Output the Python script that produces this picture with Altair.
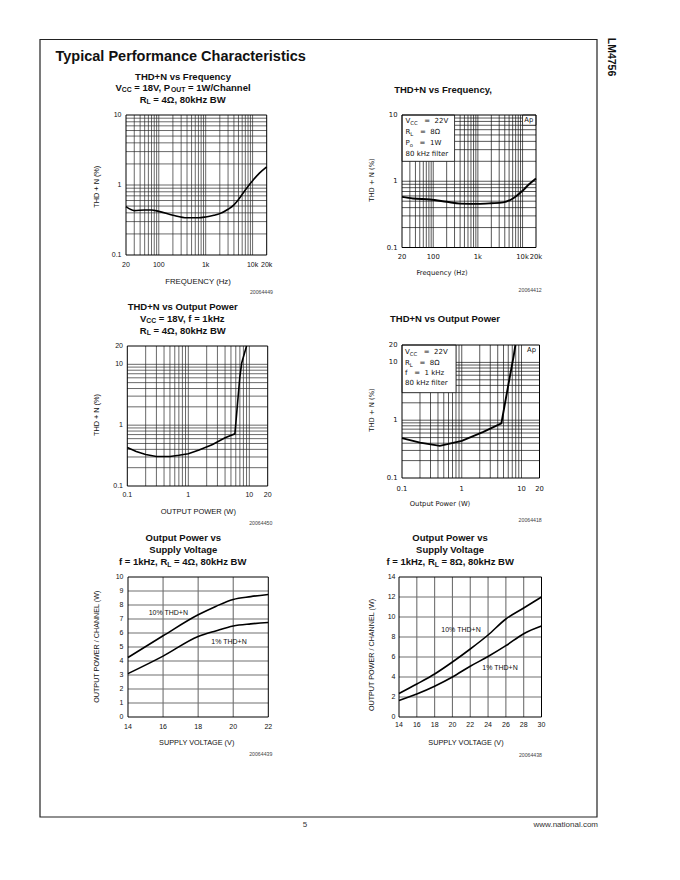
import altair as alt
import pandas as pd

# ------------------------------------------------------------------
# Data (LM4756 typical performance curves)
# ------------------------------------------------------------------
freq_4ohm = [20, 30, 50, 70, 100, 200, 400, 700, 1000, 1500, 2000, 3000, 4000, 5000, 7000, 10000, 14000, 20000]
thd_freq_4ohm = [0.49, 0.43, 0.44, 0.44, 0.42, 0.37, 0.34, 0.34, 0.35, 0.37, 0.39, 0.45, 0.52, 0.62, 0.85, 1.15, 1.48, 1.82]

freq_8ohm = [20, 35, 85, 200, 400, 1000, 2000, 3700, 6200, 10000, 14000, 20000]
thd_freq_8ohm = [0.58, 0.55, 0.53, 0.49, 0.46, 0.455, 0.465, 0.48, 0.555, 0.72, 0.90, 1.1]

pout_4ohm = [0.1, 0.14, 0.2, 0.3, 0.5, 0.7, 1.0, 1.5, 2.5, 4.0, 5.8, 7.0, 7.5, 9.0]
thd_pout_4ohm = [0.43, 0.37, 0.33, 0.305, 0.305, 0.32, 0.34, 0.39, 0.48, 0.62, 0.72, 6.3, 10.5, 20]

pout_8ohm = [0.1, 0.2, 0.43, 1.0, 2.3, 4.6, 6.0, 7.4, 7.9]
thd_pout_8ohm = [0.49, 0.41, 0.36, 0.44, 0.63, 0.88, 4.0, 13, 20]

vcc_4ohm = [14, 16, 18, 19, 20, 21, 22]
pwr10_4ohm = [4.25, 5.8, 7.3, 7.9, 8.4, 8.6, 8.75]
pwr1_4ohm = [3.1, 4.35, 5.75, 6.15, 6.5, 6.65, 6.75]

vcc_8ohm = [14, 16, 18, 20, 22, 24, 26, 28, 30]
pwr10_8ohm = [2.35, 3.3, 4.3, 5.5, 6.8, 8.2, 9.8, 10.9, 12.0]
pwr1_8ohm = [1.65, 2.3, 3.08, 4.0, 5.08, 6.05, 7.13, 8.33, 9.1]

series_names = ["10% THD+N", "1% THD+N"]

# tick labels
freq_tick_vals = [20, 100, 1000, 10000, 20000]
freq_tick_text = ["20", "100", "1k", "10k", "20k"]
thd10_tick_vals = [0.1, 1, 10]
thd10_tick_text = ["0.1", "1", "10"]
thd20_tick_vals = [0.1, 1, 10, 20]
thd20_tick_text = ["0.1", "1", "10", "20"]
pout_tick_vals = [0.1, 1, 10, 20]
pout_tick_text = ["0.1", "1", "10", "20"]
vcc4_ticks = [14, 16, 18, 20, 22]
pw4_ticks = [0, 1, 2, 3, 4, 5, 6, 7, 8, 9, 10]
vcc8_ticks = [14, 16, 18, 20, 22, 24, 26, 28, 30]
pw8_ticks = [0, 2, 4, 6, 8, 10, 12, 14]

# ------------------------------------------------------------------
# Layout helpers
# ------------------------------------------------------------------
OX, OY = 8, 8
SANS = "Liberation Sans"
APF = "DejaVu Sans"
INK = "#111111"
ONE = pd.DataFrame({"k": [0]})

HB = {" ": 278, "+": 584, ",": 278, "/": 278, "=": 584, "%": 889, ".": 278, "(": 333, ")": 333,
      "A": 722, "B": 722, "C": 722, "D": 722, "E": 667, "F": 611, "H": 722, "L": 611, "N": 722, "O": 778,
      "P": 667, "R": 722, "S": 667, "T": 611, "U": 722, "V": 667, "W": 944,
      "a": 556, "c": 556, "e": 556, "f": 333, "g": 611, "h": 611, "i": 278, "k": 556, "l": 278, "n": 611,
      "o": 611, "p": 611, "q": 611, "r": 389, "s": 556, "t": 333, "u": 611, "v": 556, "w": 778, "y": 556,
      "z": 500, "\u03a9": 770}
for d in "0123456789":
    HB[d] = 556
DJ = {" ": 318, "=": 838, "V": 684, "C": 698, "R": 695, "L": 557, "P": 603, "o": 612,
      "W": 989, "\u03a9": 765, "k": 579, "H": 752, "z": 525, "f": 352, "i": 278, "l": 278, "t": 392,
      "e": 615, "r": 411}
for d in "0123456789":
    DJ[d] = 636


def tw(s, table, size):
    return sum(table.get(c, 556) for c in s) * size / 1000.0


def T(x, y, s, size, align="center", weight="normal", font=SANS, color=INK, angle=None, baseline="middle"):
    kw = dict(align=align, baseline=baseline, fontSize=size, font=font, fontWeight=weight, color=color)
    if angle is not None:
        kw["angle"] = angle
    return alt.Chart(ONE).mark_text(**kw).encode(
        x=alt.value(x - OX), y=alt.value(y - OY), text=alt.value(s))


def rich(parts, x, y, size, table, font=SANS, weight="bold", center=True, sub_scale=0.72, sub_dy=2.4):
    sizes = [size * (sub_scale if sub else 1.0) for _, sub in parts]
    widths = [tw(t, table, sz) for (t, _), sz in zip(parts, sizes)]
    cur = x - sum(widths) / 2.0 if center else x
    out = []
    for (t, sub), sz, w in zip(parts, sizes, widths):
        stripped = t.lstrip(" ")
        lead = tw(t[: len(t) - len(stripped)], table, sz)
        out.append(T(cur + lead, y + (sub_dy if sub else 0), stripped, sz, align="left",
                     weight=weight, font=font))
        cur += w
    return out


def ap_rich(parts, x, y):
    return rich(parts, x, y, 7, DJ, font=APF, weight="normal", center=False, sub_scale=0.75, sub_dy=2.0)


def mkscale(t, d, r0, r1, off):
    kw = dict(type=t, domain=list(d), range=[r0 - off, r1 - off], nice=False)
    if t == "linear":
        kw["zero"] = False
    return alt.Scale(**kw)


def panel(xt, xd, xr, yt, yd, yr):
    return dict(xd=xd, yd=yd,
                sx=mkscale(xt, xd, xr[0], xr[1], OX),
                sy=mkscale(yt, yd, yr[0], yr[1], OY))


def log_grid(lo, hi):
    vals = []
    for e in range(-2, 6):
        for m in range(1, 10):
            v = round(m * 10.0 ** e, 6)
            if lo < v < hi:
                vals.append(v)
    return vals


def grid(p, xs, ys, color, width):
    vdf = pd.DataFrame({"v": xs, "lo": p["yd"][0], "hi": p["yd"][1]})
    hdf = pd.DataFrame({"v": ys, "lo": p["xd"][0], "hi": p["xd"][1]})
    v = alt.Chart(vdf).mark_rule(color=color, strokeWidth=width).encode(
        x=alt.X("v:Q", scale=p["sx"], axis=None),
        y=alt.Y("lo:Q", scale=p["sy"], axis=None), y2="hi:Q")
    h = alt.Chart(hdf).mark_rule(color=color, strokeWidth=width).encode(
        y=alt.Y("v:Q", scale=p["sy"], axis=None),
        x=alt.X("lo:Q", scale=p["sx"], axis=None), x2="hi:Q")
    return [v, h]


def box(p, x0, x1, y0, y1, fill=None, stroke="#000000", width=1.0):
    df = pd.DataFrame({"x0": [x0], "x1": [x1], "y0": [y0], "y1": [y1]})
    if fill is None:
        mk = alt.Chart(df).mark_rect(fillOpacity=0, stroke=stroke, strokeWidth=width)
    else:
        mk = alt.Chart(df).mark_rect(color=fill, stroke=stroke, strokeWidth=width)
    return mk.encode(x=alt.X("x0:Q", scale=p["sx"], axis=None), x2="x1:Q",
                     y=alt.Y("y0:Q", scale=p["sy"], axis=None), y2="y1:Q")


def frame(p, width=1.0):
    return box(p, p["xd"][0], p["xd"][1], p["yd"][0], p["yd"][1], width=width)


def curve(p, xs, ys, width=1.6, interp="monotone"):
    df = pd.DataFrame({"x": xs, "y": ys})
    return alt.Chart(df).mark_line(color="#000000", strokeWidth=width, interpolate=interp).encode(
        x=alt.X("x:Q", scale=p["sx"], axis=None), y=alt.Y("y:Q", scale=p["sy"], axis=None))


def curves2(p, xs, y_a, y_b, width=1.6):
    df = pd.DataFrame({"x": xs + xs, "y": y_a + y_b,
                       "s": [series_names[0]] * len(xs) + [series_names[1]] * len(xs)})
    return alt.Chart(df).mark_line(color="#000000", strokeWidth=width, interpolate="monotone").encode(
        x=alt.X("x:Q", scale=p["sx"], axis=None), y=alt.Y("y:Q", scale=p["sy"], axis=None),
        detail="s:N")


def xlabels(p, vals, texts, ypix, size=7, font=SANS):
    df = pd.DataFrame({"v": vals, "t": texts})
    return alt.Chart(df).mark_text(align="center", baseline="middle", fontSize=size, font=font,
                                   color=INK).encode(
        x=alt.X("v:Q", scale=p["sx"], axis=None), y=alt.value(ypix - OY), text="t:N")


def ylabels(p, vals, texts, xpix, size=7, font=SANS):
    df = pd.DataFrame({"v": vals, "t": texts})
    return alt.Chart(df).mark_text(align="right", baseline="middle", fontSize=size, font=font,
                                   color=INK).encode(
        y=alt.Y("v:Q", scale=p["sy"], axis=None), x=alt.value(xpix - OX), text="t:N")


layers = []

# ------------------------------------------------------------------
# Page decoration
# ------------------------------------------------------------------
layers.append(alt.Chart(ONE).mark_rect(fillOpacity=0, stroke="#222222", strokeWidth=1.2).encode(
    x=alt.value(40 - OX), x2=alt.value(597 - OX), y=alt.value(39.5 - OY), y2=alt.value(817 - OY)))
layers.append(T(55.5, 60.7, "Typical Performance Characteristics", 14.5, align="left", weight="bold",
                baseline="alphabetic"))
layers.append(T(610.5, 57, "LM4756", 10.5, weight="bold", angle=90))
layers.append(T(305, 825, "5", 8, color="#333333"))
layers.append(T(598, 825, "www.national.com", 8, align="right", color="#333333"))

GRID_N = "#2a2a2a"
GRID_AP = "#111111"
GRID_LIN = "#707070"

# ------------------------------------------------------------------
# Panel 1: THD+N vs Frequency, 4 ohm
# ------------------------------------------------------------------
p1 = panel("log", [20, 20000], [126, 266.7], "log", [0.1, 10], [255, 115])
layers += grid(p1, log_grid(20, 20000), log_grid(0.1, 10), GRID_N, 0.7)
layers.append(frame(p1))
layers.append(curve(p1, freq_4ohm, thd_freq_4ohm))
layers.append(xlabels(p1, freq_tick_vals, freq_tick_text, 265))
layers.append(ylabels(p1, thd10_tick_vals, thd10_tick_text, 121.5))
layers.append(T(198, 281.7, "FREQUENCY (Hz)", 7.8))
layers.append(T(97.3, 186.7, "THD + N (%)", 7.3, angle=270))
layers.append(T(273, 291.7, "20064449", 5.2, align="right", color="#444444"))
layers.append(T(183, 76.7, "THD+N vs Frequency", 9.5, weight="bold"))
layers += rich([("V", 0), ("CC", 1), (" = 18V, P", 0), ("OUT", 1), (" = 1W/Channel", 0)], 183, 87.7, 9.5, HB)
layers += rich([("R", 0), ("L", 1), (" = 4\u03a9, 80kHz BW", 0)], 182.5, 100, 9.5, HB)

# ------------------------------------------------------------------
# Panel 2: THD+N vs Frequency, 8 ohm (Audio Precision style)
# ------------------------------------------------------------------
p2 = panel("log", [20, 20000], [402, 536], "log", [0.1, 10], [247.5, 115])
layers += grid(p2, log_grid(20, 20000), log_grid(0.1, 10), GRID_AP, 0.7)
layers.append(box(p2, 20, 300, 2, 10, fill="#ffffff", stroke=GRID_AP, width=0.7))
layers.append(box(p2, 10000, 20000, 7, 10, fill="#ffffff", stroke=GRID_AP, width=0.7))
layers.append(frame(p2))
layers.append(curve(p2, freq_8ohm, thd_freq_8ohm, width=1.9))
layers.append(xlabels(p2, freq_tick_vals, freq_tick_text, 256.7, size=6.8, font=APF))
layers.append(ylabels(p2, thd10_tick_vals, thd10_tick_text, 397.5, size=6.8, font=APF))
layers.append(T(442, 272.7, "Frequency (Hz)", 6.8, font=APF))
layers.append(T(371.7, 180, "THD + N (%)", 6.8, font=APF, angle=270))
layers.append(T(541.7, 290, "20064412", 5.2, align="right", color="#444444"))
layers.append(T(443, 90, "THD+N vs Frequency,", 9.5, weight="bold"))
layers.append(T(528.8, 120, "Ap", 6.8, font=APF))
layers += ap_rich([("V", 0), ("CC", 1), ("   =", 0), ("  22V", 0)], 405.5, 120.5)
layers += ap_rich([("R", 0), ("L", 1), ("   =", 0), ("  8\u03a9", 0)], 405.5, 131.7)
layers += ap_rich([("P", 0), ("o", 1), ("   =", 0), ("  1W", 0)], 405.5, 142.8)
layers += ap_rich([("80", 0), (" kHz", 0), (" filter", 0)], 405.5, 154.3)

# ------------------------------------------------------------------
# Panel 3: THD+N vs Output Power, 4 ohm
# ------------------------------------------------------------------
p3 = panel("log", [0.1, 20], [127.3, 267.7], "log", [0.1, 20], [486, 346])
layers += grid(p3, log_grid(0.1, 20), log_grid(0.1, 20), GRID_N, 0.7)
layers.append(frame(p3))
layers.append(curve(p3, pout_4ohm, thd_pout_4ohm, interp="linear"))
layers.append(xlabels(p3, pout_tick_vals, pout_tick_text, 495))
layers.append(ylabels(p3, thd20_tick_vals, thd20_tick_text, 123))
layers.append(T(198.3, 512.3, "OUTPUT POWER (W)", 7.5))
layers.append(T(97.3, 415, "THD + N (%)", 7.3, angle=270))
layers.append(T(272.3, 522.7, "20064450", 5.2, align="right", color="#444444"))
layers.append(T(182.7, 307.3, "THD+N vs Output Power", 9.5, weight="bold"))
layers += rich([("V", 0), ("CC", 1), (" = 18V, f = 1kHz", 0)], 182.7, 319, 9.5, HB)
layers += rich([("R", 0), ("L", 1), (" = 4\u03a9, 80kHz BW", 0)], 182.7, 331, 9.5, HB)

# ------------------------------------------------------------------
# Panel 4: THD+N vs Output Power, 8 ohm (Audio Precision style)
# ------------------------------------------------------------------
p4 = panel("log", [0.1, 20], [402, 539.5], "log", [0.1, 20], [478, 345])
layers += grid(p4, log_grid(0.1, 20), log_grid(0.1, 20), GRID_AP, 0.7)
layers.append(box(p4, 0.1, 0.8, 3, 20, fill="#ffffff", stroke=GRID_AP, width=0.7))
layers.append(frame(p4))
layers.append(curve(p4, pout_8ohm, thd_pout_8ohm, width=1.9, interp="linear"))
layers.append(xlabels(p4, pout_tick_vals, pout_tick_text, 488.5, size=6.8, font=APF))
layers.append(ylabels(p4, thd20_tick_vals, thd20_tick_text, 397.5, size=6.8, font=APF))
layers.append(T(440, 504, "Output Power (W)", 6.8, font=APF))
layers.append(T(371.7, 410, "THD + N (%)", 6.8, font=APF, angle=270))
layers.append(T(541.7, 520, "20064418", 5.2, align="right", color="#444444"))
layers.append(T(445, 319, "THD+N vs Output Power", 9.5, weight="bold"))
layers.append(T(531.5, 350, "Ap", 6.8, font=APF))
layers += ap_rich([("V", 0), ("CC", 1), ("   =", 0), ("  22V", 0)], 405, 351.5)
layers += ap_rich([("R", 0), ("L", 1), ("   =", 0), ("  8\u03a9", 0)], 405, 363)
layers += ap_rich([("f", 0), ("   =", 0), ("  1", 0), (" kHz", 0)], 405, 373)
layers += ap_rich([("80", 0), (" kHz", 0), (" filter", 0)], 405, 382.5)

# ------------------------------------------------------------------
# Panel 5: Output Power vs Supply Voltage, 4 ohm
# ------------------------------------------------------------------
p5 = panel("linear", [14, 22], [128, 268.3], "linear", [0, 10], [717, 577])
layers += grid(p5, [16, 18, 20], list(range(1, 10)), GRID_LIN, 1.1)
layers.append(frame(p5))
layers.append(curves2(p5, vcc_4ohm, pwr10_4ohm, pwr1_4ohm))
layers.append(xlabels(p5, vcc4_ticks, [str(v) for v in vcc4_ticks], 726.7))
layers.append(ylabels(p5, pw4_ticks, [str(v) for v in pw4_ticks], 123.5))
layers.append(T(196.7, 743.3, "SUPPLY VOLTAGE (V)", 7.3))
layers.append(T(97.3, 646.7, "OUTPUT POWER / CHANNEL (W)", 7.2, angle=270))
layers.append(T(272.3, 754, "20064439", 5.2, align="right", color="#444444"))
layers.append(T(168.3, 612.7, series_names[0], 7))
layers.append(T(229, 641.5, series_names[1], 7))
layers.append(T(183.3, 538.3, "Output Power vs", 9.5, weight="bold"))
layers.append(T(183.3, 550, "Supply Voltage", 9.5, weight="bold"))
layers += rich([("f = 1kHz, R", 0), ("L", 1), (" = 4\u03a9, 80kHz BW", 0)], 182.5, 562.3, 9.5, HB)

# ------------------------------------------------------------------
# Panel 6: Output Power vs Supply Voltage, 8 ohm
# ------------------------------------------------------------------
p6 = panel("linear", [14, 30], [399, 541.5], "linear", [0, 14], [717, 577])
layers += grid(p6, list(range(16, 30, 2)), list(range(2, 14, 2)), GRID_LIN, 1.1)
layers.append(frame(p6))
layers.append(curves2(p6, vcc_8ohm, pwr10_8ohm, pwr1_8ohm))
layers.append(xlabels(p6, vcc8_ticks, [str(v) for v in vcc8_ticks], 725))
layers.append(ylabels(p6, pw8_ticks, [str(v) for v in pw8_ticks], 395.5))
layers.append(T(466, 743.3, "SUPPLY VOLTAGE (V)", 7.3))
layers.append(T(371.7, 655, "OUTPUT POWER / CHANNEL (W)", 7.2, angle=270))
layers.append(T(542, 755, "20064438", 5.2, align="right", color="#444444"))
layers.append(T(461, 630, series_names[0], 7))
layers.append(T(500, 668, series_names[1], 7))
layers.append(T(450, 538.3, "Output Power vs", 9.5, weight="bold"))
layers.append(T(450, 550, "Supply Voltage", 9.5, weight="bold"))
layers += rich([("f = 1kHz, R", 0), ("L", 1), (" = 8\u03a9, 80kHz BW", 0)], 450, 562.3, 9.5, HB)

chart = alt.layer(*layers).resolve_scale(
    x="independent", y="independent"
).properties(
    width=664, height=860, padding=0, background="#ffffff",
    autosize=alt.AutoSizeParams(type="none"),
).configure_view(strokeWidth=0)

chart.save("out.html", embed_options={"renderer": "svg", "actions": False})
